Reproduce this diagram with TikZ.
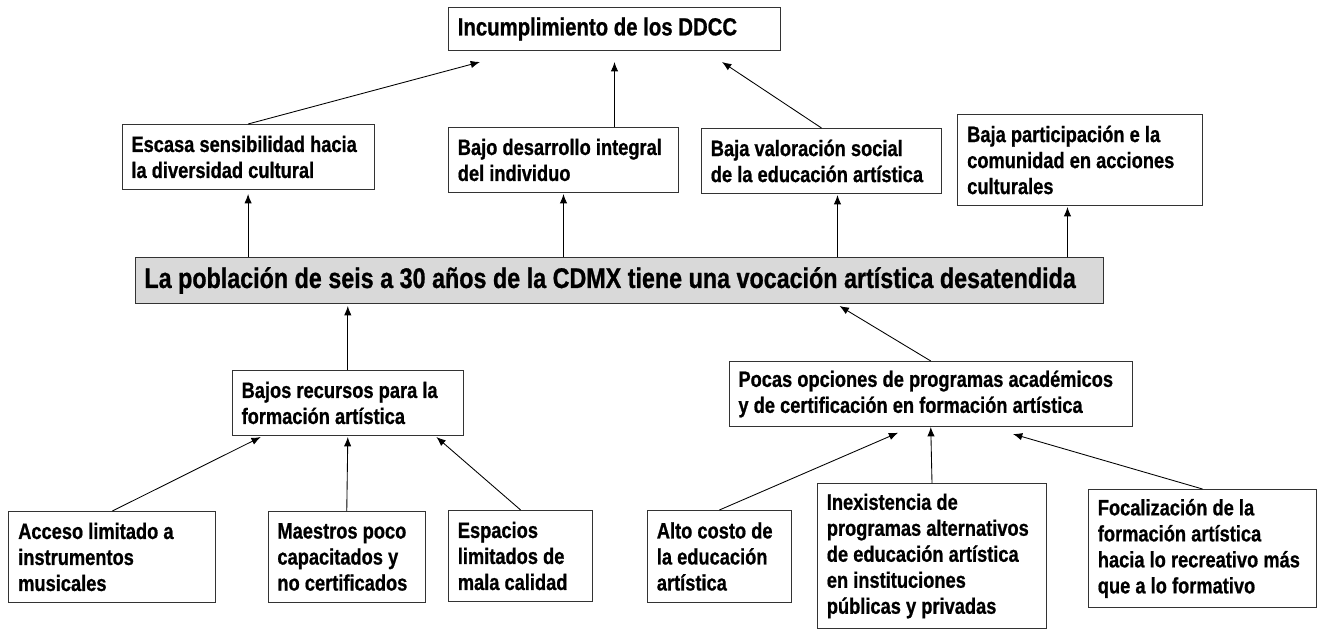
\documentclass[tikz,border=0pt]{standalone}
\usepackage{fontspec}
\setmainfont{Liberation Sans}[FakeStretch=0.82, BoldFeatures={FakeBold=0.8}]
\usetikzlibrary{arrows.meta}

\begin{document}
\begin{tikzpicture}[x=0.75pt, y=-0.75pt,
    caja/.style={draw=black!80, line width=0.75pt, fill=white, anchor=north west, align=left,
        inner xsep=7pt, inner ysep=2pt, font=\bfseries\fontsize{16.7}{19.5}\selectfont,
        execute at begin node={\spaceskip=0.23em\relax\hyphenpenalty=10000\relax}},
    flecha/.style={-{Latex[length=7pt,width=5.5pt]}, line width=0.65pt}]
    \useasboundingbox (0,0) rectangle (1322,629);

    % Efecto final
    \node[caja, text width=235pt, minimum height=32.25pt, font=\bfseries\fontsize{18.6}{22}\selectfont] (ddcc) at (448,7) {Incumplimiento de los DDCC};

    % Efectos
    \node[caja, text width=175pt, minimum height=48.75pt] (esc) at (121.6,124) {Escasa sensibilidad hacia\\la diversidad cultural};
    \node[caja, text width=158.5pt, minimum height=48.75pt] (bajo) at (448,127) {Bajo desarrollo integral\\del individuo};
    \node[caja, text width=166pt, minimum height=48.75pt] (val) at (701,128) {Baja valoración social\\de la educación artística};
    \node[caja, text width=169.4pt, minimum height=68.25pt] (part) at (957.4,114) {Baja participación e la\\comunidad en acciones\\culturales};

    % Problema central
    \node[caja, fill=black!15, text width=712pt, minimum height=34.5pt, font=\bfseries\fontsize{21.3}{25}\selectfont] (main) at (134.6,257) {La población de seis a 30 años de la CDMX tiene una vocación artística desatendida};

    % Causas
    \node[caja, text width=159.25pt, minimum height=48.75pt] (recursos) at (231.8,370) {Bajos recursos para la\\formación artística};
    \node[caja, text width=288.5pt, minimum height=48.75pt] (pocas) at (728.6,361) {Pocas opciones de programas académicos\\y de certificación en formación artística};

    % Causas secundarias
    \node[caja, text width=141.25pt, minimum height=68.25pt] (acceso) at (8.4,511) {Acceso limitado a\\instrumentos\\musicales};
    \node[caja, text width=104pt, minimum height=68.25pt] (maestros) at (267.6,511) {Maestros poco\\capacitados y\\no certificados};
    \node[caja, text width=94.2pt, minimum height=68.25pt] (espacios) at (448,510) {Espacios\\limitados de\\mala calidad};
    \node[caja, text width=93.85pt, minimum height=69pt] (alto) at (647,510) {Alto costo de\\la educación\\artística};
    \node[caja, text width=157.75pt, minimum height=108.75pt] (inex) at (817,483) {Inexistencia de\\programas alternativos\\de educación artística\\en instituciones\\públicas y privadas};
    \node[caja, text width=157pt, minimum height=88.5pt] (foco) at (1088,489) {Focalización de la\\formación artística\\hacia lo recreativo más\\que a lo formativo};

    % Flechas hacia el efecto final
    \draw[flecha] (esc.north) -- ([shift={(32,11)}]ddcc.south west);
    \draw[flecha] (bajo.north -| ddcc.south) -- ([shift={(0,11)}]ddcc.south);
    \draw[flecha] (val.north) -- ([shift={(-59,11)}]ddcc.south east);

    % Flechas del problema a los efectos
    \draw[flecha] (main.north -| esc.south) -- ([shift={(0,4)}]esc.south);
    \draw[flecha] (main.north -| bajo.south) -- ([shift={(0,1)}]bajo.south);
    \draw[flecha] ([xshift=12pt]val.south |- main.north) -- ([shift={(16,1)}]val.south);
    \draw[flecha] ([xshift=-9.5pt]part.south |- main.north) -- ([shift={(-12.7,1)}]part.south);

    % Flechas de las causas al problema
    \draw[flecha] (recursos.north) -- ([yshift=-1.5pt]recursos.north |- main.south);
    \draw[flecha] (pocas.north) -- ([shift={(-91.2,2)}]pocas.north |- main.south);

    % Flechas de las causas secundarias
    \draw[flecha] (acceso.north) -- ([shift={(29,1)}]recursos.south west);
    \draw[flecha] (maestros.north) -- ([shift={(0,1)}]recursos.south);
    \draw[flecha] (espacios.north) -- ([shift={(-27.4,1)}]recursos.south east);
    \draw[flecha] (alto.north) -- ([shift={(-32.6,5.7)}]pocas.south);
    \draw[flecha] (inex.north) -- (pocas.south);
    \draw[flecha] (foco.north) -- ([shift={(82.2,7)}]pocas.south);
\end{tikzpicture}
\end{document}
